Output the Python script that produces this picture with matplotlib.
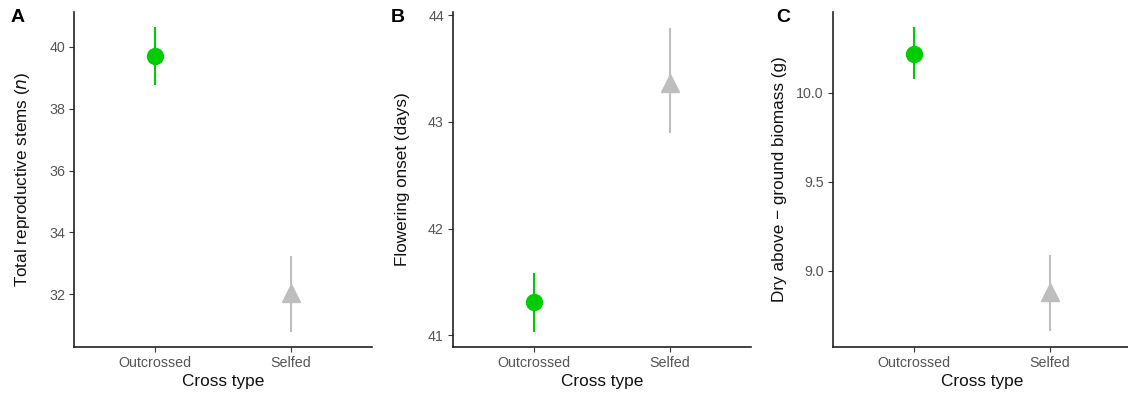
import matplotlib.pyplot as plt

plt.rcParams['font.family'] = ['Liberation Sans', 'DejaVu Sans']

cross_types = ['Outcrossed', 'Selfed']

stems_mean = [39.7, 32.05]
stems_low = [38.77, 30.78]
stems_high = [40.65, 33.25]

onset_mean = [41.31, 43.36]
onset_low = [41.03, 42.9]
onset_high = [41.58, 43.88]

biomass_mean = [10.22, 8.88]
biomass_low = [10.08, 8.66]
biomass_high = [10.37, 9.09]

colors = ['#00cc00', '#bebebe']
markers = ['o', '^']

panels = [
    ('A', stems_mean, stems_low, stems_high, (30.29, 41.13), [32, 34, 36, 38, 40],
     ['32', '34', '36', '38', '40'], 'Total reproductive stems ($\\it{n}$)', 74, 18, 12),
    ('B', onset_mean, onset_low, onset_high, (40.89, 44.03), [41, 42, 43, 44],
     ['41', '42', '43', '44'], 'Flowering onset (days)', 453, 398, 13),
    ('C', biomass_mean, biomass_low, biomass_high, (8.57, 10.455), [9.0, 9.5, 10.0],
     ['9.0', '9.5', '10.0'], 'Dry above \u2212 ground biomass (g)', 833, 783, 7),
]

W, H = 1128, 394


def main():
    fig = plt.figure(figsize=(W / 100, H / 100), dpi=100)
    for letter, mean, low, high, ylim, ticks, labels, ylabel, left, lx, lpad in panels:
        ax = fig.add_axes([left / W, (H - 347) / H, 298 / W, 335 / H])
        for i in range(len(cross_types)):
            ax.plot([i, i], [low[i], high[i]], color=colors[i], lw=1.5,
                    solid_capstyle='butt', zorder=2)
            ax.plot(i, mean[i], marker=markers[i], color=colors[i],
                    markersize=11.5 if i == 0 else 13, linestyle='none', zorder=3)
        ax.set_xlim(-0.6, 1.6)
        ax.set_ylim(*ylim)
        ax.set_xticks(range(len(cross_types)))
        ax.set_xticklabels(cross_types)
        ax.set_yticks(ticks)
        ax.set_yticklabels(labels)
        for s in ['top', 'right']:
            ax.spines[s].set_visible(False)
        for s in ['left', 'bottom']:
            ax.spines[s].set_linewidth(1.2)
            ax.spines[s].set_color('#222222')
        ax.tick_params(axis='both', colors='#333333', labelcolor='#555555',
                       labelsize=10.3, length=3.5, width=0.8, pad=3)
        ax.set_xlabel('Cross type', fontsize=12.4, color='#111111', labelpad=3)
        ax.set_ylabel(ylabel, fontsize=12.3, color='#111111', labelpad=lpad)
        fig.text(lx / W, 1 - 18 / H, letter, fontsize=14,
                 fontweight='bold', va='center', ha='center')
    fig.savefig('out.png', dpi=100)


if __name__ == "__main__":
    main()
